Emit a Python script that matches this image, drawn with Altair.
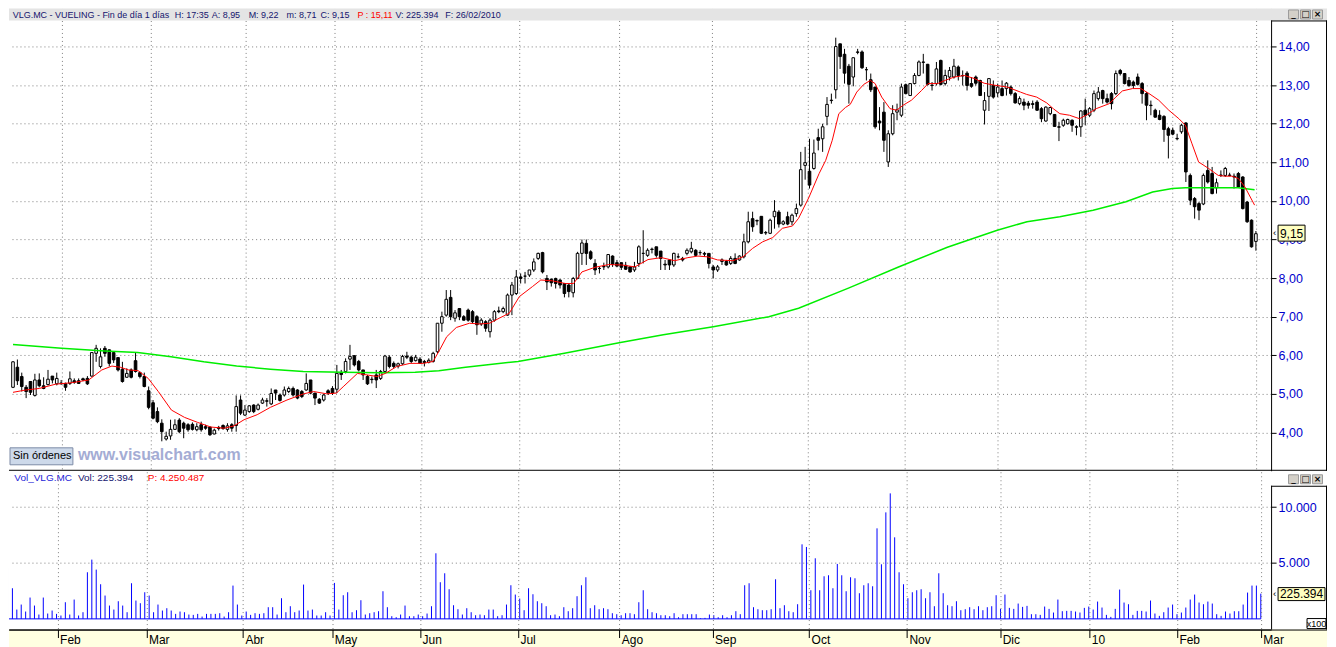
import altair as alt
import pandas as pd
import numpy as np

# ---------------- data ----------------
opens = [
    5.17, 5.69, 5.45, 5.17, 5.32, 4.96, 5.36, 5.21, 5.24, 5.46,
    5.26, 5.28, 5.27, 5.27, 5.34, 5.34, 5.39, 5.40, 5.46, 6.05,
    5.71, 6.18, 6.14, 6.07, 5.94, 5.64, 5.43, 5.62, 5.86, 5.55,
    5.45, 5.08, 4.77, 4.54, 4.24, 3.83, 3.91, 4.08, 4.32, 4.24,
    4.20, 4.21, 4.07, 4.20, 4.15, 4.14, 3.96, 4.13, 4.18, 4.08,
    4.20, 4.18, 4.84, 4.45, 4.54, 4.71, 4.60, 4.76, 4.82, 4.74,
    5.10, 4.97, 4.97, 5.06, 5.14, 5.10, 5.06, 5.10, 5.36, 5.02,
    4.86, 4.84, 5.08, 5.14, 5.12, 5.55, 5.58, 5.90, 5.99, 5.84,
    5.62, 5.45, 5.38, 5.49, 5.40, 5.58, 5.95, 5.79, 5.72, 5.78,
    5.98, 5.95, 5.86, 5.90, 5.84, 5.82, 5.84, 6.09, 6.83, 7.04,
    7.50, 6.96, 7.21, 7.00, 7.17, 7.13, 7.00, 6.81, 6.87, 6.61,
    6.91, 7.15, 7.13, 7.04, 7.56, 7.60, 8.03, 8.05, 8.08, 8.21,
    8.51, 8.66, 7.99, 7.97, 7.99, 7.95, 7.86, 7.82, 7.62, 7.99,
    8.64, 8.90, 8.68, 8.38, 8.25, 8.30, 8.29, 8.57, 8.40, 8.40,
    8.33, 8.29, 8.21, 8.38, 8.64, 8.59, 8.75, 8.81, 8.70, 8.36,
    8.47, 8.34, 8.55, 8.51, 8.64, 8.68, 8.72, 8.66, 8.64, 8.64,
    8.29, 8.21, 8.43, 8.43, 8.38, 8.51, 8.47, 8.55, 8.94, 9.54,
    9.49, 9.60, 9.17, 9.16, 9.59, 9.71, 9.40, 9.59, 9.46, 9.67,
    9.89, 10.92, 10.77, 10.84, 11.64, 11.61, 12.19, 12.60, 12.88, 14.07,
    13.80, 13.49, 13.21, 13.86, 13.86, 13.40, 13.14, 12.95, 12.07, 12.30,
    11.01, 11.74, 12.30, 12.22, 13.01, 12.73, 13.04, 13.25, 13.60, 13.54,
    13.00, 13.04, 13.64, 13.04, 13.21, 13.21, 13.47, 13.25, 13.31, 13.04,
    13.21, 13.12, 12.35, 12.71, 12.99, 12.80, 12.91, 12.91, 12.95, 12.78,
    12.52, 12.56, 12.53, 12.52, 12.56, 12.39, 12.07, 12.26, 12.24, 11.92,
    11.96, 12.00, 12.09, 11.92, 11.92, 12.35, 12.22, 12.35, 12.65, 12.86,
    12.65, 12.78, 12.78, 13.38, 13.30, 13.12, 13.08, 13.21, 13.04, 12.78,
    12.48, 12.35, 12.22, 12.19, 11.87, 11.83, 11.62, 11.79, 12.02, 10.66,
    10.06, 9.93, 9.92, 10.79, 10.71, 10.34, 10.67, 10.66, 10.67, 10.64,
    10.71, 10.62, 9.97, 9.50, 8.95,
]
highs = [
    5.85, 5.89, 5.55, 5.23, 5.32, 5.52, 5.53, 5.43, 5.62, 5.46,
    5.55, 5.36, 5.29, 5.58, 5.40, 5.40, 5.42, 5.46, 6.07, 6.27,
    6.18, 6.24, 6.15, 6.10, 5.94, 5.83, 5.66, 5.66, 6.07, 5.58,
    5.55, 5.19, 4.84, 4.65, 4.34, 4.02, 4.33, 4.34, 4.37, 4.28,
    4.24, 4.26, 4.24, 4.28, 4.20, 4.15, 4.10, 4.17, 4.21, 4.24,
    4.24, 4.96, 4.96, 4.71, 4.71, 4.73, 4.75, 4.90, 4.89, 5.14,
    5.10, 5.01, 5.19, 5.19, 5.19, 5.12, 5.10, 5.53, 5.36, 5.02,
    4.89, 5.00, 5.12, 5.20, 5.75, 5.62, 5.92, 6.27, 6.00, 5.88,
    5.62, 5.49, 5.45, 5.62, 5.62, 6.01, 6.00, 5.84, 5.81, 6.01,
    6.09, 5.99, 6.01, 5.95, 5.88, 5.92, 6.09, 6.83, 7.13, 7.69,
    7.69, 7.17, 7.21, 7.04, 7.21, 7.17, 7.04, 6.96, 6.91, 6.96,
    7.17, 7.26, 7.26, 7.60, 7.90, 8.21, 8.12, 8.16, 8.21, 8.51,
    8.66, 8.68, 8.08, 7.99, 8.01, 7.97, 7.86, 7.86, 8.03, 8.68,
    9.00, 9.00, 8.72, 8.49, 8.29, 8.40, 8.61, 8.59, 8.47, 8.40,
    8.42, 8.31, 8.42, 8.85, 9.24, 8.77, 8.79, 8.81, 8.70, 8.47,
    8.49, 8.66, 8.64, 8.55, 8.77, 8.94, 8.75, 8.72, 8.68, 8.64,
    8.34, 8.34, 8.51, 8.47, 8.57, 8.64, 8.59, 9.15, 9.72, 9.72,
    9.52, 9.60, 9.22, 9.54, 10.02, 9.76, 9.50, 9.72, 9.67, 9.93,
    11.27, 11.40, 11.61, 11.59, 11.87, 12.00, 12.69, 12.78, 14.23, 14.07,
    13.94, 13.55, 13.71, 13.94, 13.90, 13.47, 13.30, 12.95, 12.43, 12.56,
    11.83, 12.48, 12.52, 13.04, 13.04, 13.04, 13.31, 13.64, 13.81, 13.55,
    13.08, 13.60, 13.66, 13.40, 13.47, 13.68, 13.51, 13.38, 13.36, 13.21,
    13.25, 13.14, 12.82, 13.17, 13.12, 13.04, 13.12, 13.08, 12.99, 12.82,
    12.71, 12.65, 12.59, 12.60, 12.61, 12.43, 12.45, 12.43, 12.24, 12.05,
    12.13, 12.13, 12.11, 11.96, 12.35, 12.65, 12.43, 12.86, 12.95, 12.88,
    12.78, 12.82, 13.38, 13.42, 13.31, 13.21, 13.12, 13.30, 13.08, 12.82,
    12.60, 12.39, 12.35, 12.22, 11.92, 11.90, 11.74, 12.00, 12.04, 10.71,
    10.10, 9.97, 10.71, 11.05, 10.88, 10.58, 10.79, 10.88, 10.73, 10.71,
    10.75, 10.64, 10.00, 9.52, 9.22,
]
lows = [
    5.15, 5.23, 5.06, 4.89, 4.97, 4.93, 5.17, 5.12, 5.22, 5.27,
    5.22, 5.23, 5.08, 5.23, 5.26, 5.26, 5.33, 5.23, 5.45, 5.83,
    5.66, 5.96, 5.71, 5.80, 5.58, 5.29, 5.42, 5.40, 5.55, 5.40,
    5.17, 4.60, 4.34, 4.24, 3.77, 3.79, 3.81, 4.07, 3.98, 3.85,
    4.02, 4.05, 4.03, 4.02, 4.07, 3.91, 3.95, 4.05, 4.07, 4.02,
    4.02, 4.02, 4.45, 4.43, 4.51, 4.50, 4.57, 4.74, 4.67, 4.71,
    4.84, 4.80, 4.93, 5.02, 4.93, 4.86, 4.89, 5.08, 4.99, 4.71,
    4.74, 4.80, 4.97, 4.97, 5.02, 5.36, 5.53, 5.62, 5.71, 5.58,
    5.36, 5.23, 5.27, 5.15, 5.36, 5.53, 5.66, 5.66, 5.66, 5.75,
    5.90, 5.80, 5.84, 5.78, 5.71, 5.79, 5.81, 6.05, 6.61, 7.00,
    6.91, 6.87, 6.91, 6.90, 6.87, 6.83, 6.53, 6.76, 6.61, 6.46,
    6.87, 7.09, 7.09, 7.02, 7.04, 7.56, 7.86, 7.86, 8.03, 8.16,
    8.47, 8.12, 7.69, 7.78, 7.73, 7.73, 7.50, 7.50, 7.50, 7.97,
    8.34, 8.34, 8.47, 8.08, 8.12, 8.21, 8.25, 8.29, 8.28, 8.21,
    8.21, 8.14, 8.16, 8.29, 8.38, 8.55, 8.64, 8.53, 8.21, 8.21,
    8.21, 8.29, 8.51, 8.43, 8.59, 8.64, 8.57, 8.59, 8.55, 8.25,
    7.99, 8.16, 8.34, 8.32, 8.34, 8.36, 8.45, 8.51, 8.90, 9.20,
    9.37, 9.14, 9.12, 9.14, 9.28, 9.31, 9.37, 9.37, 9.37, 9.59,
    9.85, 10.55, 10.32, 10.81, 11.31, 11.27, 11.96, 12.52, 12.65, 13.42,
    13.04, 12.52, 12.97, 13.80, 13.42, 13.12, 12.82, 11.87, 11.83, 11.27,
    10.88, 11.70, 12.09, 12.17, 12.76, 12.73, 13.02, 13.23, 13.30, 12.99,
    12.86, 12.99, 12.99, 12.99, 13.12, 13.17, 13.12, 12.99, 12.86, 12.93,
    12.99, 12.73, 11.98, 12.33, 12.65, 12.69, 12.71, 12.73, 12.73, 12.52,
    12.48, 12.35, 12.39, 12.39, 12.33, 12.04, 12.05, 12.22, 11.92, 11.55,
    11.92, 11.98, 11.79, 11.70, 11.66, 11.96, 12.17, 12.30, 12.60, 12.52,
    12.52, 12.37, 12.74, 13.25, 13.02, 12.95, 12.91, 12.99, 12.52, 12.09,
    12.22, 12.16, 12.09, 11.53, 11.10, 11.70, 11.57, 11.74, 10.49, 9.89,
    9.54, 9.50, 9.89, 10.45, 10.17, 10.19, 10.62, 10.62, 10.64, 10.32,
    10.35, 9.78, 9.43, 8.79, 8.71,
]
closes = [
    5.83, 5.34, 5.19, 5.06, 5.04, 5.36, 5.21, 5.14, 5.38, 5.36,
    5.40, 5.27, 5.17, 5.39, 5.30, 5.27, 5.36, 5.26, 6.07, 6.18,
    5.96, 6.05, 5.79, 5.88, 5.62, 5.32, 5.53, 5.43, 5.58, 5.45,
    5.19, 4.65, 4.37, 4.28, 4.02, 3.90, 4.08, 4.20, 4.02, 4.11,
    4.07, 4.08, 4.15, 4.07, 4.11, 3.94, 4.06, 4.10, 4.10, 4.17,
    4.11, 4.67, 4.50, 4.58, 4.69, 4.54, 4.71, 4.84, 4.81, 5.01,
    5.02, 4.83, 5.10, 5.14, 4.97, 4.89, 4.93, 5.27, 5.02, 4.89,
    4.76, 4.97, 5.02, 5.02, 5.53, 5.50, 5.84, 5.97, 5.75, 5.62,
    5.49, 5.26, 5.37, 5.36, 5.58, 5.98, 5.71, 5.71, 5.78, 5.97,
    5.95, 5.84, 5.95, 5.79, 5.81, 5.87, 6.05, 6.83, 7.00, 7.45,
    7.00, 7.10, 7.00, 6.91, 6.91, 6.87, 6.79, 6.91, 6.70, 6.91,
    7.13, 7.13, 7.21, 7.56, 7.82, 8.03, 7.99, 8.05, 8.21, 8.42,
    8.64, 8.16, 7.90, 7.88, 7.86, 7.82, 7.60, 7.65, 7.99, 8.64,
    8.91, 8.64, 8.51, 8.21, 8.25, 8.29, 8.61, 8.36, 8.31, 8.28,
    8.23, 8.16, 8.29, 8.81, 8.64, 8.72, 8.74, 8.59, 8.51, 8.34,
    8.34, 8.64, 8.55, 8.47, 8.72, 8.77, 8.59, 8.66, 8.62, 8.38,
    8.21, 8.29, 8.47, 8.34, 8.51, 8.38, 8.57, 8.94, 9.46, 9.33,
    9.48, 9.16, 9.18, 9.50, 9.73, 9.40, 9.46, 9.40, 9.63, 9.80,
    10.81, 10.99, 10.41, 11.24, 11.57, 11.92, 12.50, 12.61, 14.00, 13.74,
    13.31, 13.02, 13.71, 13.85, 13.45, 13.40, 12.88, 11.92, 12.02, 11.57,
    11.74, 12.26, 12.36, 12.95, 12.78, 13.04, 13.25, 13.60, 13.59, 13.02,
    12.99, 13.42, 13.02, 13.25, 13.38, 13.49, 13.25, 13.24, 12.99, 12.97,
    13.05, 12.73, 12.60, 13.17, 12.69, 12.95, 12.73, 13.05, 12.78, 12.54,
    12.65, 12.48, 12.48, 12.50, 12.35, 12.13, 12.43, 12.42, 11.93, 11.91,
    12.09, 12.11, 11.96, 11.91, 12.33, 12.22, 12.39, 12.78, 12.82, 12.65,
    12.56, 12.52, 13.30, 13.30, 13.04, 12.99, 12.99, 13.02, 12.78, 12.48,
    12.47, 12.17, 12.11, 11.85, 11.70, 11.73, 11.61, 11.96, 10.75, 10.02,
    9.85, 9.76, 10.66, 10.49, 10.19, 10.47, 10.66, 10.84, 10.66, 10.62,
    10.36, 9.80, 9.46, 8.81, 9.15,
]
# volume in hundreds of shares (axis shows x100)
volumes = [
    4613, 2738, 833, 1280, 655, 1905, 1190, 387, 1905, 476,
    744, 446, 298, 1488, 387, 1726, 298, 595, 4167, 5298,
    4405, 3096, 2084, 1190, 833, 1577, 1190, 595, 3185, 1637,
    1399, 2381, 2084, 595, 1280, 744, 953, 744, 446, 655,
    595, 387, 357, 446, 208, 446, 446, 446, 506, 208,
    595, 2976, 1280, 298, 655, 357, 506, 446, 506, 1042,
    1042, 387, 1845, 595, 1131, 595, 744, 3066, 744, 833,
    298, 298, 595, 298,
    3214, 833, 2113, 2381, 595, 774, 1667, 387, 506, 595,
    685, 2470, 1042, 238, 149, 387, 1190, 238, 238, 387,
    238, 476, 1131, 5863, 3274, 4077, 2649, 1220, 863, 387,
    952, 595, 327, 387, 327, 833, 833, 238, 327, 1280,
    3006, 2173, 1815, 774, 2738, 2202, 1577, 1399, 1131, 327,
    387, 238, 1042, 685, 952, 2024, 3006, 3720, 952, 1220,
    863, 952, 863, 506, 417, 327, 506, 506, 417, 1488,
    2559, 863, 595, 506,
    327, 327, 238, 506, 149, 417, 417, 417, 417, 60,
    89, 387, 327, 149, 327, 149, 327, 685, 417, 3006,
    3184, 1042, 863, 774, 774, 863, 3541, 952, 1220, 685,
    595, 1310, 6666, 6428, 2559, 5416, 2559, 3809, 3898, 2738,
    4910, 3898, 2470, 3720, 3630, 2292, 3006, 3184, 2916, 8095,
    4880, 9523, 11220, 7291, 4166, 3095, 1845, 2381, 2559, 2649,
    1845, 2381, 1131, 4077, 2292, 1220, 1131, 1577, 774, 863,
    1042, 863, 1131, 774, 1042, 1131, 2113,
    893, 2173, 982, 893, 1369, 1071, 1161, 417, 417, 357,
    1101, 893, 565, 1726, 684, 714, 714, 655, 565, 982,
    1101, 833, 1547, 1012, 357, 179, 893, 2619, 1458, 1309,
    357, 714, 714, 655, 1637, 476, 268, 595, 1012, 1280,
    417, 565, 1012, 1726, 2173, 1458, 1309, 1547, 1369, 417,
    268, 655, 476, 684, 684, 1280, 2351, 2976, 2976, 2254,
]
# short moving average (red), read at sample points (bar index, price)
red_ma_idx = [
    0, 2.9, 6, 9.7, 13.5, 17.3, 20.3, 22.6, 24.5, 26.4,
    28.6, 30.9, 33.2, 36.2, 39.2, 42.2, 45.2, 48.3, 50.5, 52.8,
    55.8, 58.8, 62.6, 66.4, 68.7, 71.7, 73.9, 75.6, 78.7, 80.9,
    83.2, 85.1, 87.7, 90.7, 93.8, 96.0, 97.5, 99.1, 101.3, 104.3,
    106.6, 108.9, 111.1, 113.4, 115.7, 118.7, 120.6, 123.2, 126.2, 128.1,
    130.0, 133.0, 136.1, 139.1, 142.1, 145.1, 148.2, 151.2, 154.2, 156.5,
    158.7, 161.0, 164.5, 166.8, 169.0, 171.3, 173.6, 175.8, 178.1, 179.5,
    181.9, 184.2, 185.7, 187.2, 188.7, 190.2, 191.3, 192.8, 194.4, 195.9,
    197.0, 198.5, 200.4, 201.9, 203.4, 205.3, 207.6, 209.1, 211.3, 212.9,
    215.1, 217.4, 219.7, 221.9, 224.2, 227.2, 230.2, 231.6, 233.9, 236.2,
    237.7, 239.2, 241.4, 243.7, 245.2, 247.5, 250.5, 252.0, 253.5, 255.8,
    257.7, 259.6, 261.8, 264.1, 266.4, 267.9, 269.4, 270.9, 273.2, 275.4,
    276.9, 278.5, 280.0, 281.5, 283.7,
]
red_ma_val = [
    5.04, 5.10, 5.14, 5.25, 5.29, 5.36, 5.62, 5.72, 5.69, 5.62,
    5.60, 5.40, 5.06, 4.58, 4.39, 4.26, 4.14, 4.11, 4.17, 4.33,
    4.46, 4.65, 4.84, 5.00, 5.06, 5.00, 5.02, 5.20, 5.53, 5.49,
    5.45, 5.53, 5.71, 5.79, 5.79, 5.84, 6.14, 6.48, 6.72, 6.83,
    6.81, 6.83, 6.96, 7.09, 7.52, 7.78, 7.95, 7.93, 7.86, 7.86,
    8.16, 8.28, 8.35, 8.34, 8.29, 8.48, 8.53, 8.45, 8.53, 8.57,
    8.55, 8.47, 8.45, 8.55, 8.77, 8.94, 9.05, 9.29, 9.35, 9.55,
    10.10, 10.71, 11.05, 11.57, 12.26, 12.42, 12.50, 12.82, 13.02, 13.12,
    13.04, 12.69, 12.39, 12.35, 12.48, 12.61, 12.86, 13.04, 13.04, 13.12,
    13.21, 13.25, 13.17, 13.05, 13.00, 12.95, 12.82, 12.76, 12.69, 12.54,
    12.39, 12.26, 12.22, 12.13, 12.22, 12.39, 12.52, 12.69, 12.85, 12.91,
    12.91, 12.78, 12.61, 12.35, 12.13, 11.96, 11.48, 11.01, 10.84, 10.66,
    10.64, 10.64, 10.58, 10.36, 9.89,
]
# long moving average (green), read at sample points
green_ma_idx = [
    0, 11.1, 21.0, 28.5, 36.1, 43.6, 51.1, 58.8, 66.3, 75.3,
    84.0, 91.9, 97.3, 103.4, 115.4, 126.0, 138.8, 148.6, 160.0, 172.7,
    179.5, 190.9, 202.2, 213.5, 224.9, 231.7, 239.2, 246.8, 254.3, 260.4,
    264.9, 267.9, 279.9, 283.7,
]
green_ma_val = [
    6.28, 6.18, 6.11, 6.07, 5.96, 5.83, 5.72, 5.64, 5.58, 5.56,
    5.55, 5.56, 5.60, 5.69, 5.84, 6.05, 6.33, 6.53, 6.74, 7.00,
    7.22, 7.74, 8.28, 8.80, 9.24, 9.46, 9.59, 9.76, 9.98, 10.23,
    10.32, 10.34, 10.34, 10.29,
]
month_ticks = [11.25, 31.39, 53.26, 73.50, 93.41, 115.59, 138.59, 159.73,
               181.60, 203.78, 224.92, 245.13, 264.98, 284.00]
month_labels = ["Feb", "Mar", "Abr", "May", "Jun", "Jul", "Ago", "Sep",
                "Oct", "Nov", "Dic", "10", "Feb", "Mar"]
price_ticks = [4, 5, 6, 7, 8, 9, 10, 11, 12, 13, 14]
volume_ticks = [5000, 10000]

# ---------------- tables ----------------
df = pd.DataFrame({"i": np.arange(len(closes)), "o": opens, "h": highs,
                   "l": lows, "c": closes, "v": volumes})
df["top"] = df[["o", "c"]].max(axis=1)
df["bot"] = df[["o", "c"]].min(axis=1)
df["dir"] = np.where(df["c"] >= df["o"], "up", "down")
red_df = pd.DataFrame({"i": red_ma_idx, "p": red_ma_val})
green_df = pd.DataFrame({"i": green_ma_idx, "p": green_ma_val})
base_df = pd.DataFrame({"x0": [df["i"].min()], "x1": [df["i"].max()], "y": [0]})
one = pd.DataFrame({"k": [0]})

# ---------------- layout ----------------
W, H_TOP, H_VOL, FULL_W = 1264, 463, 158, 1320
FONT = "Liberation Sans"
xs = alt.Scale(domain=[0.2263, 286.33], nice=False, zero=False)
ps = alt.Scale(domain=[3.0066, 14.986], nice=False, zero=False)
vs = alt.Scale(domain=[-955, 13152], nice=False, zero=False)
GRID = dict(grid=True, gridColor="#808080", gridDash=[1, 3], gridWidth=1)

top_x_axis = alt.Axis(values=month_ticks, labels=False, ticks=False, domain=False,
                      title=None, **GRID)
price_axis = alt.Axis(orient="right", values=price_ticks,
                      labelExpr="replace(format(datum.value, '.2f'), '.', ',')",
                      labelColor="#0000CC", labelFont=FONT, labelFontSize=12.5,
                      labelPadding=2, tickSize=5, tickColor="black",
                      domainColor="black", title=None, **GRID)
vol_axis = alt.Axis(orient="right", values=volume_ticks,
                    labelExpr="replace(format(datum.value, ',d'), ',', '.')",
                    labelColor="#0000CC", labelFont=FONT, labelFontSize=12.5,
                    labelPadding=2, tickSize=5, tickColor="black",
                    domainColor="black", title=None, **GRID)
lab_expr = ("[" + ",".join("'%s'" % m for m in month_labels) + "][indexof(["
            + ",".join(repr(t) for t in month_ticks) + "], datum.value)]")
vol_x_axis = alt.Axis(values=month_ticks, labelExpr=lab_expr, labelFont=FONT,
                      labelFontSize=12, labelColor="black", labelAlign="left",
                      labelBaseline="top", labelPadding=-3, labelOffset=2,
                      labelFlush=False, labelOverlap=False, tickSize=8,
                      tickColor="black", domainColor="black", title=None,
                      zindex=1, **GRID)


def txt(s, x, y, color="black", size=11, weight="normal", align="left", font=FONT):
    return alt.Chart(one).mark_text(text=s, color=color, fontSize=size, fontWeight=weight,
                                    align=align, baseline="middle", font=font,
                                    clip=False).encode(x=alt.value(x), y=alt.value(y))


def rect(x, x2, y, y2, fill, stroke=None):
    kw = dict(fill=fill, clip=False)
    if stroke:
        kw.update(stroke=stroke, strokeWidth=1)
    return alt.Chart(one).mark_rect(**kw).encode(
        x=alt.value(x), x2=alt.value(x2), y=alt.value(y), y2=alt.value(y2))


def hline(x, x2, y, color="black"):
    return alt.Chart(one).mark_rule(color=color, strokeWidth=1, clip=False).encode(
        x=alt.value(x), x2=alt.value(x2), y=alt.value(y))


def vline(x, y, y2, color="black"):
    return alt.Chart(one).mark_rule(color=color, strokeWidth=1, clip=False).encode(
        x=alt.value(x), y=alt.value(y), y2=alt.value(y2))


def buttons(y0):
    out = []
    for k, g in enumerate(["_", "□", "×"]):
        x0 = 1281.5 + k * 12
        out.append(rect(x0, x0 + 10, y0, y0 + 9, "#D4D0C8", "#9A9A9A"))
        out.append(txt(g, x0 + 5, y0 + 4.5, "black", 9, "bold", "center", "DejaVu Sans"))
    return out


# ---------------- price panel ----------------
X = alt.X("i:Q", scale=xs, axis=top_x_axis)
wicks = alt.Chart(df).mark_rule(color="black", strokeWidth=1, clip=True).encode(
    x=X, y=alt.Y("l:Q", scale=ps, axis=price_axis), y2="h:Q")
bodies = alt.Chart(df).mark_bar(size=2.6, stroke="black", strokeWidth=1, clip=True).encode(
    x=X, y=alt.Y("bot:Q", scale=ps, axis=price_axis), y2="top:Q",
    fill=alt.Fill("dir:N", scale=alt.Scale(domain=["up", "down"], range=["white", "black"]),
                  legend=None))
green = alt.Chart(green_df).mark_line(color="#00EE00", strokeWidth=1.5, clip=True).encode(
    x=X, y=alt.Y("p:Q", scale=ps, axis=price_axis))
red = alt.Chart(red_df).mark_line(color="#FF0000", strokeWidth=1, clip=True).encode(
    x=X, y=alt.Y("p:Q", scale=ps, axis=price_axis))

NAVY = "#14146E"
header = [rect(0, FULL_W, 0, 12, "#E4E4E4"),
          txt("VLG.MC - VUELING - Fin de día 1 días", 3.7, 6.5, NAVY, 9),
          txt("H: 17:35", 166, 6.5, NAVY, 9),
          txt("A: 8,95", 203, 6.5, NAVY, 9),
          txt("M: 9,22", 240, 6.5, NAVY, 9),
          txt("m: 8,71", 278, 6.5, NAVY, 9),
          txt("C: 9,15", 312, 6.5, NAVY, 9),
          txt("P : 15,11", 349, 6.5, "#FF0000", 9),
          txt("V: 225.394", 387, 6.5, NAVY, 9),
          txt("F: 26/02/2010", 437, 6.5, NAVY, 9)] + buttons(1.5)
frame_top = [hline(W, FULL_W, 12.5), vline(1319.5, 12, H_TOP), hline(0, FULL_W, 462.5)]
extras_top = [rect(1, 64, 440, 457, "#CDD9EA", "#7D8CA6"),
              txt("Sin órdenes", 4, 448.5, "black", 11),
              txt("www.visualchart.com", 69, 447.5, "#A4ACD4", 16, "bold"),
              rect(1271, 1298, 217, 233, "#FFFFC0", "black"),
              txt("9,15", 1284.5, 225.5, "black", 12, align="center"),
              txt("‹", 1267.5, 225, "black", 10, align="center")]

top = alt.layer(wicks, bodies, green, red, *header, *frame_top, *extras_top).properties(
    width=W, height=H_TOP)

# ---------------- volume panel ----------------
XV = alt.X("i:Q", scale=xs, axis=vol_x_axis)
band = rect(0, FULL_W, 158, 176, "#FFFFE1")
vol = alt.Chart(df).mark_rule(color="#0000FF", strokeWidth=1, clip=True).encode(
    x=XV, y=alt.Y("v:Q", scale=vs, axis=vol_axis), y2=alt.datum(0))
baseline = alt.Chart(base_df).mark_rule(color="#0000FF", strokeWidth=1, clip=True).encode(
    x=alt.X("x0:Q", scale=xs, axis=vol_x_axis), x2="x1:Q",
    y=alt.Y("y:Q", scale=vs, axis=vol_axis))
vol_extras = [rect(1263.5, FULL_W, 0, 14, "white"),
              hline(W, FULL_W, 14.5), vline(1319.5, 14, H_VOL),
              hline(0, FULL_W, 158.5),
              txt("Vol_VLG.MC", 5.3, 6.5, "#2323D8", 10),
              txt("Vol: 225.394", 69, 6.5, NAVY, 10),
              txt("P: 4.250.487", 139, 6.5, "#FF0000", 10),
              rect(1271, 1318, 116, 129, "#FFFFC0", "black"),
              txt("225.394", 1294.5, 122.5, "black", 12, align="center"),
              txt("‹", 1267.5, 122, "black", 10, align="center"),
              rect(1300, 1319, 147, 157, "white", "black"),
              txt("x100", 1309.5, 152, "black", 9, align="center")] + buttons(3)

bottom = alt.layer(band, vol, baseline, *vol_extras).properties(width=W, height=H_VOL)

chart = alt.vconcat(top, bottom, spacing=0, padding=0).configure_view(stroke=None)
chart.save("out.html", embed_options={"renderer": "svg", "actions": False})
